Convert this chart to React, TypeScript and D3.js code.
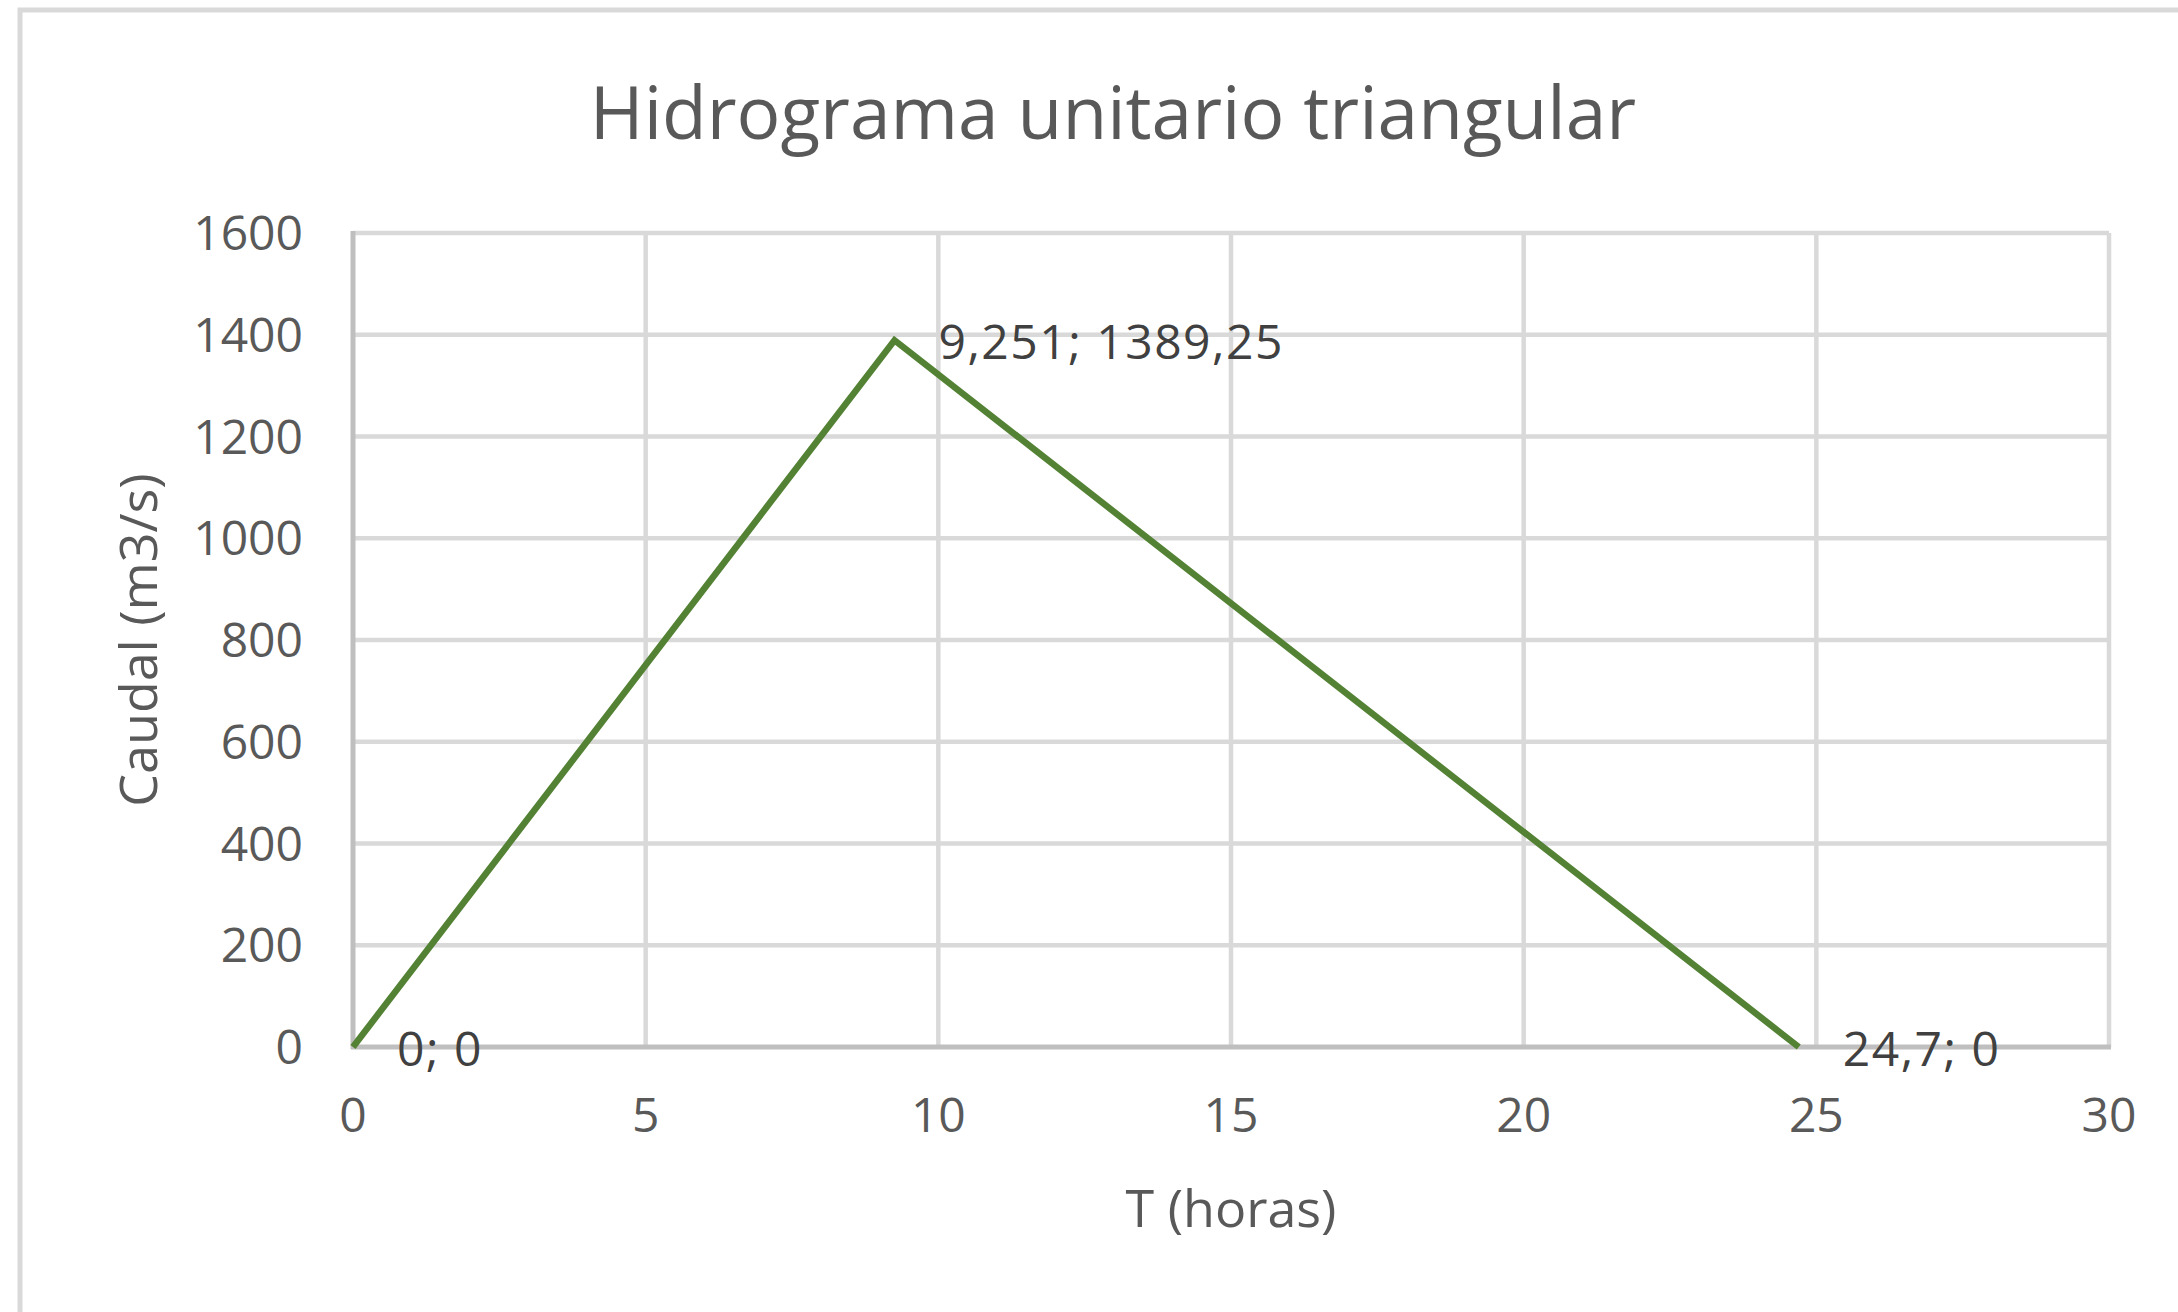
import React from "react";
import * as d3 from "d3";

const timeHours = [0, 9.251, 24.7];
const flowValues = [0, 1389.25, 0];
const pointLabels = ["0; 0", "9,251; 1389,25", "24,7; 0"];
const xTicks = [0, 5, 10, 15, 20, 25, 30];
const yTicks = [0, 200, 400, 600, 800, 1000, 1200, 1400, 1600];
const chartTitle = "Hidrograma unitario triangular";
const xTitle = "T (horas)";
const yTitle = "Caudal (m3/s)";

const W = 2178;
const H = 1312;
const M = { left: 353, right: 2109, top: 233, bottom: 1047 };
const FONT = "'Open Sans', 'Noto Sans', sans-serif";

export default function App() {
  const x = d3.scaleLinear().domain([0, 30]).range([M.left, M.right]);
  const y = d3.scaleLinear().domain([0, 1600]).range([M.bottom, M.top]);
  const pts = timeHours.map((t, i) => [t, flowValues[i]] as [number, number]);
  const line = d3
    .line<[number, number]>()
    .x((d) => x(d[0]))
    .y((d) => y(d[1]));

  return (
    <div style={{ position: "absolute", left: 0, top: 0 }}>
      <svg width={W} height={H} style={{ display: "block", background: "#fff" }}>
        <rect x={0} y={0} width={W} height={H} fill="#fff" />
        <rect x={20} y={10} width={W + 40} height={H + 40} fill="none" stroke="#d9d9d9" strokeWidth={5} />
        <text x={1113} y={139} textAnchor="middle" fontFamily={FONT} fontSize={73} fill="#595959">
          {chartTitle}
        </text>
        {/* gridlines */}
        {yTicks.slice(1).map((t) => (
          <line key={"gy" + t} x1={M.left} x2={M.right} y1={y(t)} y2={y(t)} stroke="#d9d9d9" strokeWidth={4.5} />
        ))}
        {xTicks.slice(1).map((t) => (
          <line key={"gx" + t} x1={x(t)} x2={x(t)} y1={M.top} y2={M.bottom} stroke="#d9d9d9" strokeWidth={4.5} />
        ))}
        {/* axes */}
        <line x1={M.left} x2={M.left} y1={M.top - 2} y2={M.bottom + 2} stroke="#bfbfbf" strokeWidth={5} />
        <line x1={M.left - 2} x2={M.right + 2} y1={M.bottom} y2={M.bottom} stroke="#bfbfbf" strokeWidth={5} />
        {/* tick labels */}
        {yTicks.map((t) => (
          <text key={"ty" + t} x={303} y={y(t) + 17} textAnchor="end" fontFamily={FONT} fontSize={48} fill="#595959">
            {t}
          </text>
        ))}
        {xTicks.map((t) => (
          <text key={"tx" + t} x={x(t)} y={1132} textAnchor="middle" fontFamily={FONT} fontSize={48} fill="#595959">
            {t}
          </text>
        ))}
        {/* axis titles */}
        <text x={x(15)} y={1227} textAnchor="middle" fontFamily={FONT} fontSize={52} fill="#595959">
          {xTitle}
        </text>
        <text
          transform={`translate(157, ${(M.top + M.bottom) / 2}) rotate(-90)`}
          textAnchor="middle"
          fontFamily={FONT}
          fontSize={52}
          fill="#595959"
        >
          {yTitle}
        </text>
        {/* series */}
        <path d={line(pts) || ""} fill="none" stroke="#548235" strokeWidth={6.5} strokeLinejoin="miter" />
        {pts.map((p, i) => (
          <text
            key={"dl" + i}
            x={x(p[0]) + 44}
            y={y(p[1]) + 19}
            fontFamily={FONT}
            fontSize={48}
            letterSpacing={1.5}
            fill="#404040"
          >
            {pointLabels[i]}
          </text>
        ))}
      </svg>
    </div>
  );
}
